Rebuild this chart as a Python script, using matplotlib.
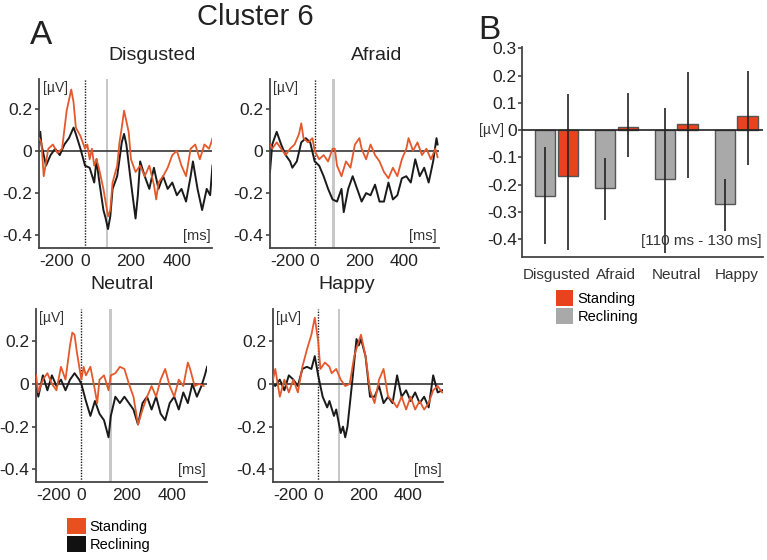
import numpy as np
import matplotlib.pyplot as plt
from matplotlib.patches import Patch

plt.rcParams['font.family'] = ['Liberation Sans', 'DejaVu Sans']
plt.rcParams['axes.unicode_minus'] = False

# ---- panel A: ERP traces ----
disg_std_t = [-200, -190, -180, -160, -140, -120, -100, -80, -60, -50, -40, -20, 0, 10, 20, 30, 40, 50, 60, 80,
              100, 110, 120, 140, 150, 160, 170, 180, 190, 200, 220, 240, 260, 280, 300, 310, 320, 340, 360, 380,
              400, 420, 440, 460, 480, 500, 520, 540, 550, 555]
disg_std_v = [0.06, 0.04, -0.12, 0.01, 0.03, -0.01, 0.01, 0.19, 0.29, 0.23, 0.11, 0.07, 0.01, 0.03, -0.04, 0.01, -0.07, -0.04, -0.08, -0.18,
              -0.31, -0.28, -0.15, -0.07, 0.04, 0.11, 0.19, 0.14, 0.09, -0.04, -0.10, -0.07, -0.12, -0.07, -0.16, -0.23, -0.15, -0.12, -0.08, -0.02,
              0.0, -0.07, -0.12, 0.01, 0.03, -0.04, 0.03, 0.01, 0.04, 0.06]
disg_rec_t = [-200, -195, -190, -170, -150, -130, -110, -90, -70, -50, -40, -20, 0, 20, 40, 50, 60, 80, 90, 100,
              110, 120, 140, 160, 170, 180, 200, 220, 230, 240, 260, 280, 300, 320, 340, 360, 380, 400, 420, 440,
              460, 470, 490, 510, 530, 545, 555]
disg_rec_v = [0.04, 0.09, 0.03, -0.07, -0.02, 0.01, -0.02, 0.03, 0.06, 0.11, 0.08, 0.01, -0.07, -0.08, -0.15, -0.04, -0.13, -0.28, -0.32, -0.37,
              -0.31, -0.18, -0.12, 0.04, 0.08, 0.03, -0.15, -0.32, -0.21, -0.05, -0.12, -0.18, -0.08, -0.18, -0.12, -0.18, -0.15, -0.21, -0.18, -0.24,
              -0.12, -0.05, -0.18, -0.28, -0.18, -0.21, -0.07]

afr_std_t = [-200, -190, -170, -150, -130, -110, -90, -70, -60, -50, -30, -10, 0, 20, 40, 60, 80, 90, 100, 120,
             140, 160, 180, 200, 210, 230, 250, 270, 290, 310, 330, 350, 370, 390, 410, 420, 440, 460, 480, 500,
             520, 540, 550]
afr_std_v = [0.03, 0.01, 0.04, 0.01, -0.02, 0.01, 0.03, 0.08, 0.13, 0.06, 0.04, 0.06, 0.0, -0.04, -0.02, -0.05, 0.01, 0.01, -0.07, -0.12,
             -0.05, -0.08, 0.03, 0.06, 0.01, -0.04, 0.03, -0.02, -0.05, -0.10, -0.13, -0.08, -0.12, -0.04, 0.01, 0.06, 0.0, 0.04, -0.02, 0.01,
             -0.04, 0.01, -0.03]
afr_rec_t = [-200, -190, -170, -150, -130, -110, -100, -80, -60, -40, -20, 0, 20, 40, 60, 80, 100, 120, 130, 150,
             170, 190, 210, 230, 250, 270, 290, 310, 330, 350, 370, 390, 410, 430, 450, 470, 490, 510, 530, 545,
             550]
afr_rec_v = [-0.10, 0.03, 0.09, 0.03, -0.02, -0.05, -0.08, -0.05, 0.04, 0.06, 0.04, -0.05, -0.07, -0.12, -0.18, -0.23, -0.24, -0.18, -0.29, -0.18,
             -0.12, -0.18, -0.24, -0.20, -0.21, -0.16, -0.24, -0.24, -0.15, -0.23, -0.21, -0.13, -0.12, -0.15, -0.04, -0.12, -0.08, -0.15, -0.05, 0.06,
             0.03]

neu_std_t = [-200, -190, -170, -150, -130, -110, -90, -70, -50, -40, -30, -20, 0, 10, 20, 40, 60, 70, 80, 100,
             120, 130, 150, 170, 190, 210, 230, 250, 270, 290, 310, 330, 350, 370, 390, 410, 430, 450, 470, 480,
             500, 520, 540]
neu_std_v = [0.04, -0.04, 0.02, 0.05, 0.0, -0.03, 0.08, 0.02, 0.18, 0.24, 0.23, 0.15, 0.02, 0.08, 0.04, 0.08, -0.03, -0.09, 0.02, 0.04,
             -0.03, 0.04, 0.05, 0.08, 0.07, 0.0, -0.06, -0.19, -0.12, -0.06, -0.01, -0.06, 0.02, 0.07, -0.01, -0.06, 0.02, -0.01, 0.10, 0.07,
             -0.01, 0.0, -0.01]
neu_rec_t = [-200, -190, -170, -150, -130, -110, -90, -70, -50, -30, -10, 0, 20, 40, 60, 80, 100, 120, 130, 150,
             170, 190, 210, 230, 250, 270, 290, 310, 330, 350, 370, 390, 410, 430, 450, 470, 490, 510, 530, 545,
             555]
neu_rec_v = [0.0, -0.06, 0.04, -0.03, 0.04, -0.01, 0.02, -0.03, 0.02, 0.05, 0.02, 0.0, -0.08, -0.15, -0.08, -0.14, -0.17, -0.25, -0.15, -0.06,
             -0.09, -0.06, -0.09, -0.12, -0.19, -0.09, -0.06, -0.12, -0.06, -0.14, -0.17, -0.09, -0.06, -0.12, -0.04, -0.09, 0.0, -0.06, -0.01, 0.04,
             0.08]

hap_std_t = [-200, -190, -170, -150, -130, -110, -90, -70, -50, -30, -15, 0, 10, 30, 50, 60, 80, 100, 120, 140,
             160, 180, 190, 210, 230, 250, 270, 290, 310, 330, 350, 370, 390, 410, 430, 450, 470, 490, 510, 530,
             550]
hap_std_v = [0.02, 0.07, -0.06, 0.02, -0.04, 0.02, -0.04, 0.08, 0.16, 0.23, 0.31, 0.20, 0.07, 0.10, 0.08, 0.05, 0.07, 0.02, -0.01, 0.0,
             0.13, 0.20, 0.23, 0.13, -0.03, -0.09, 0.02, 0.07, -0.06, -0.08, -0.11, -0.06, -0.12, -0.06, -0.12, -0.08, -0.12, -0.09, -0.03, -0.01,
             -0.04]
hap_rec_t = [-200, -190, -170, -150, -130, -110, -90, -70, -50, -30, -15, 0, 10, 20, 40, 50, 70, 80, 100, 110,
             120, 130, 150, 170, 180, 190, 210, 230, 250, 270, 290, 310, 330, 350, 370, 390, 410, 430, 450, 470,
             490, 510, 530, 550]
hap_rec_v = [0.0, -0.01, 0.02, -0.03, 0.04, 0.02, -0.01, 0.07, 0.08, 0.07, 0.13, 0.04, -0.01, -0.06, -0.11, -0.08, -0.15, -0.12, -0.23, -0.20,
             -0.25, -0.20, 0.0, 0.21, 0.18, 0.21, 0.13, -0.06, -0.06, -0.01, -0.09, -0.06, -0.09, 0.04, -0.06, -0.03, -0.08, -0.04, -0.09, -0.06,
             -0.11, 0.04, -0.04, -0.03]

emotions = ["Disgusted", "Afraid", "Neutral", "Happy"]
window_ms = [95, 84, 129, 93]   # grey marker position in each panel

# ---- panel B: mean amplitude 110-130 ms ----
rec_mean = [-0.242, -0.212, -0.178, -0.270]
rec_err_lo = [0.176, 0.118, 0.272, 0.098]
rec_err_hi = [0.179, 0.109, 0.258, 0.092]
std_mean = [-0.168, 0.013, 0.024, 0.052]
std_err_lo = [0.271, 0.113, 0.199, 0.179]
std_err_hi = [0.299, 0.124, 0.189, 0.166]

ORANGE = "#e3592b"
BLACK = "#1a1a1a"
RED = "#e8431e"
GREY = "#a9a9a9"
AX = "#444444"

fig = plt.figure(figsize=(7.67, 5.6), dpi=100)

traces = [(disg_std_t, disg_std_v, disg_rec_t, disg_rec_v),
          (afr_std_t, afr_std_v, afr_rec_t, afr_rec_v),
          (neu_std_t, neu_std_v, neu_rec_t, neu_rec_v),
          (hap_std_t, hap_std_v, hap_rec_t, hap_rec_v)]
rects = [[0.051, 0.557, 0.226, 0.302],
         [0.352, 0.557, 0.220, 0.302],
         [0.047, 0.139, 0.223, 0.309],
         [0.356, 0.139, 0.222, 0.309]]
title_x = [0.65, 0.63, 0.50, 0.435]

for i, (name, rect, tr) in enumerate(zip(emotions, rects, traces)):
    ax = fig.add_axes(rect)
    st, sv, rt, rv = tr
    ax.axvspan(window_ms[i] - 5, window_ms[i] + 5, color="#c8c8c8", lw=0, zorder=0)
    ax.axvline(0, color=BLACK, ls=(0, (1, 1)), lw=1.0, zorder=1)
    ax.axhline(0, color=AX, lw=1.3, zorder=1)
    ax.plot(rt, rv, color=BLACK, lw=1.4, zorder=2)
    ax.plot(st, sv, color=ORANGE, lw=1.3, zorder=3)
    ax.set_xlim(-200, 555)
    ax.set_ylim(-0.46, 0.34 if i < 2 else 0.35)
    ax.set_xticks([-200, 0, 200, 400])
    ax.set_yticks([0.2, 0, -0.2, -0.4])
    ax.set_yticklabels(["0.2", "0", "-0.2", "-0.4"])
    for s in ["top", "right"]:
        ax.spines[s].set_visible(False)
    for s in ["left", "bottom"]:
        ax.spines[s].set_color(AX)
        ax.spines[s].set_linewidth(1.3)
    ax.tick_params(colors=AX, labelcolor="#222222", labelsize=12.5, length=3, width=1.2, pad=2)
    ax.tick_params(axis="x", length=0, pad=4)
    ax.get_xticklabels()[0].set_horizontalalignment("left")
    ax.text(title_x[i], 1.14, name, transform=ax.transAxes, fontsize=14, color="#222222",
            ha="center", va="center")
    ax.text(0.02, 0.99, "[µV]", transform=ax.transAxes, fontsize=10, color="#333333", va="top")
    ax.text(0.99, 0.03, "[ms]", transform=ax.transAxes, fontsize=10.5, color="#333333", ha="right", va="bottom")

fig.text(0.333, 0.970, "Cluster 6", fontsize=21, color="#222222", ha="center", va="center")
fig.text(0.054, 0.937, "A", fontsize=24, color="#222222", ha="center", va="center")
fig.text(0.638, 0.945, "B", fontsize=24, color="#222222", ha="center", va="center")

fig.legend(handles=[Patch(facecolor="#e8501f", edgecolor="none", label="Standing"),
                    Patch(facecolor="#111111", edgecolor="none", label="Reclining")],
           loc="upper left", bbox_to_anchor=(0.078, 0.088), frameon=False, fontsize=10.5,
           handlelength=1.3, handleheight=1.3, handletextpad=0.25, labelspacing=0.15, borderpad=0)

# ---- panel B ----
axb = fig.add_axes([0.681, 0.541, 0.314, 0.375])
x = np.arange(len(emotions))
w = 0.34
axb.bar(x - 0.19, rec_mean, w, color=GREY, edgecolor="#555555", lw=1.0, zorder=2)
axb.bar(x + 0.19, std_mean, w, color=RED, edgecolor="#555555", lw=1.0, zorder=2)
axb.errorbar(x - 0.19, rec_mean, yerr=[rec_err_lo, rec_err_hi], fmt="none", ecolor="#222222", elinewidth=1.2, capsize=0, zorder=3)
axb.errorbar(x + 0.19, std_mean, yerr=[std_err_lo, std_err_hi], fmt="none", ecolor="#222222", elinewidth=1.2, capsize=0, zorder=3)
axb.axhline(0, color="#222222", lw=1.2, zorder=4)
axb.set_xlim(-0.57, 3.45)
axb.set_ylim(-0.465, 0.305)
axb.set_yticks(np.arange(-4, 4) / 10)
axb.set_yticklabels(["-0.4", "-0.3", "-0.2", "-0.1", "0", "0.1", "0.2", "0.3"])
axb.set_xticks(x)
axb.set_xticklabels(emotions)
for s in ["top", "right"]:
    axb.spines[s].set_visible(False)
for s in ["left", "bottom"]:
    axb.spines[s].set_color(AX)
    axb.spines[s].set_linewidth(1.3)
axb.tick_params(axis="y", colors=AX, labelcolor="#222222", labelsize=12.5, length=3, width=1.2, pad=1)
axb.tick_params(axis="x", length=0, labelsize=11, labelcolor="#333333", pad=8)
axb.text(-0.075, 0.0, "[µV]", transform=axb.get_yaxis_transform(), fontsize=10, color="#333333", ha="right", va="center")
axb.text(0.995, 0.045, "[110 ms - 130 ms]", transform=axb.transAxes, fontsize=11, color="#333333", ha="right", va="bottom")

fig.legend(handles=[Patch(facecolor=RED, edgecolor="none", label="Standing"),
                    Patch(facecolor=GREY, edgecolor="none", label="Reclining")],
           loc="upper left", bbox_to_anchor=(0.715, 0.495), frameon=False, fontsize=10.5,
           handlelength=1.2, handleheight=1.3, handletextpad=0.3, labelspacing=0.15, borderpad=0)

fig.savefig("out.png", dpi=100)
